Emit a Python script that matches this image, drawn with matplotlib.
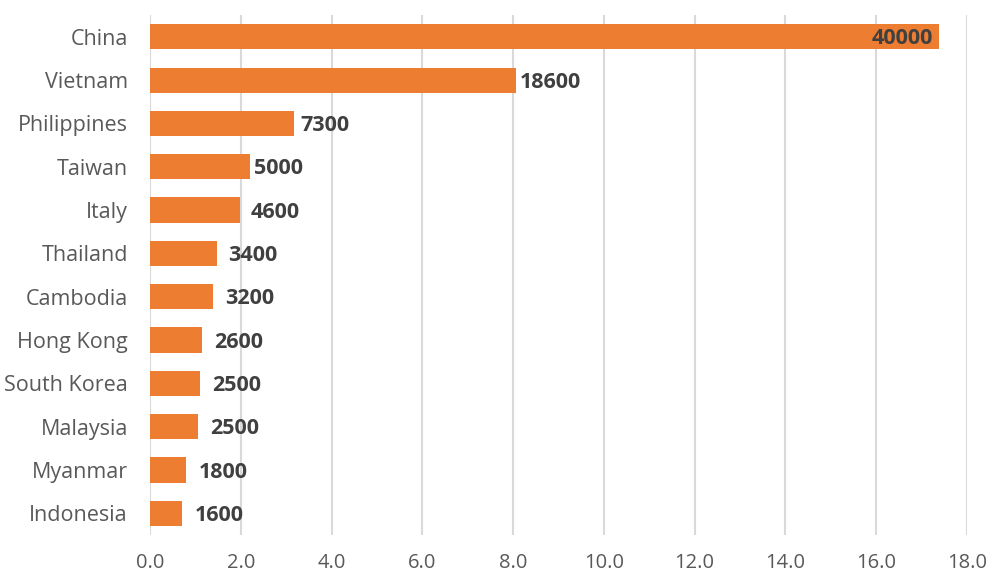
import matplotlib
matplotlib.use("Agg")
import matplotlib.pyplot as plt

countries = ["China", "Vietnam", "Philippines", "Taiwan", "Italy", "Thailand",
             "Cambodia", "Hong Kong", "South Korea", "Malaysia", "Myanmar", "Indonesia"]
bar_len = [17.38, 8.07, 3.18, 2.21, 1.99, 1.48, 1.39, 1.15, 1.10, 1.06, 0.79, 0.71]
labels = ["40000", "18600", "7300", "5000", "4600", "3400",
          "3200", "2600", "2500", "2500", "1800", "1600"]
xticks = [0, 2, 4, 6, 8, 10, 12, 14, 16, 18]

# gap between bar end and its label, in pixels (labels were nudged by hand)
label_gap = [-6, 3, 6, 4, 10, 11, 12, 12, 12, 12.5, 12.5, 13]

plt.rcParams['font.family'] = ['Open Sans', 'DejaVu Sans']

fig = plt.figure(figsize=(10, 5.8), dpi=100)
ax = fig.add_axes([0.15, 0.0776, 0.817, 0.8964])

y = list(range(len(countries)))
ax.barh(y, bar_len, height=0.58, color="#ED7D31", zorder=3)
ax.set_ylim(len(countries) - 0.5, -0.5)
ax.set_xlim(0, 18)
ax.set_yticks(y)
ax.set_yticklabels(countries, fontsize=15.5, color="#595959")
ax.set_xticks(xticks)
ax.set_xticklabels([f"{v:.1f}" for v in xticks], fontsize=14.5, color="#595959")
ax.tick_params(length=0)
ax.tick_params(axis="y", pad=16)
ax.tick_params(axis="x", pad=13)
ax.grid(axis="x", color="#d9d9d9", linewidth=1.5, zorder=0)
for s in ax.spines.values():
    s.set_visible(False)

for i, (v, t, g) in enumerate(zip(bar_len, labels, label_gap)):
    ax.annotate(t, (v, i), xytext=(g * 0.72, -1.5), textcoords="offset points",
                ha="right" if g < 0 else "left", va="center", fontsize=15.5,
                fontweight="bold", color="#404040", zorder=4)

fig.savefig("out.png", dpi=100)
